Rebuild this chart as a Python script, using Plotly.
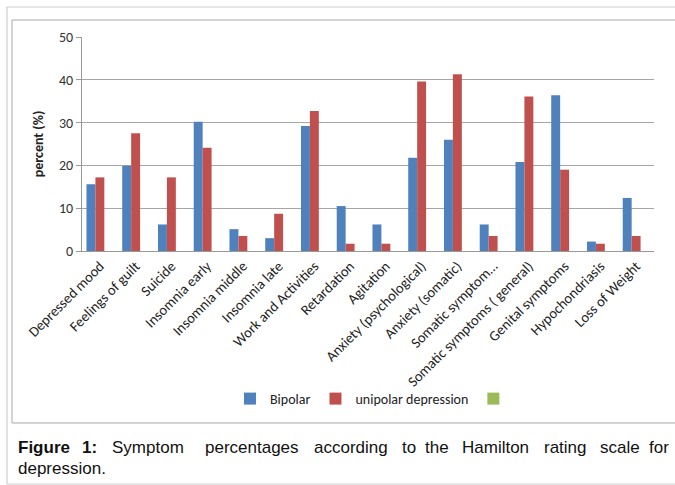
import plotly.graph_objects as go

categories = ["Depressed mood", "Feelings of guilt", "Suicide", "Insomnia early",
              "Insomnia middle", "Insomnia late", "Work and Activities", "Retardation",
              "Agitation", "Anxiety (psychological)", "Anxiety (somatic)",
              "Somatic symptom…", "Somatic symptoms ( general)", "Genital symptoms",
              "Hypochondriasis", "Loss of Weight"]

bipolar = [15.6, 19.9, 6.2, 30.2, 5.1, 3.0, 29.2, 10.5, 6.2, 21.8, 26.0, 6.2, 20.8, 36.4, 2.2, 12.4]
unipolar = [17.2, 27.5, 17.2, 24.1, 3.5, 8.7, 32.7, 1.7, 1.7, 39.6, 41.3, 3.5, 36.1, 19.0, 1.7, 3.5]
third = [None] * len(categories)

y_ticks = [0, 10, 20, 30, 40, 50]

W, H = 675, 485
L, R, T, B = 82, 654, 37, 251


def px(x):
    return (x - L) / (R - L)


def py(y):
    return (B - y) / (B - T)


FONT = "Carlito, Lato, sans-serif"

fig = go.Figure()
fig.add_bar(x=categories, y=bipolar, name="Bipolar", marker_color="#4F81BD",
            marker_line_width=0)
fig.add_bar(x=categories, y=unipolar, name="unipolar depression", marker_color="#C0504D",
            marker_line_width=0)
fig.add_bar(x=categories, y=third, name=" ", marker_color="#9BBB59",
            marker_line_width=0)

fig.update_layout(
    width=W, height=H,
    margin=dict(l=L, r=W - R, t=T, b=H - B, pad=0, autoexpand=False),
    paper_bgcolor="white", plot_bgcolor="white",
    barmode="group", bargap=0.25, bargroupgap=0,
    font=dict(family=FONT, size=14, color="#222"),
    showlegend=True,
    legend=dict(orientation="h", x=px(230), y=py(399), xanchor="left", yanchor="middle",
                font=dict(family=FONT, size=14, color="#222"),
                bgcolor="rgba(0,0,0,0)", itemwidth=30, traceorder="normal"),
    xaxis=dict(tickangle=-45, showgrid=False, showline=True, linecolor="#999",
               ticks="", automargin=False,
               tickfont=dict(family=FONT, size=14.5, color="#222"),
               range=[-0.5, len(categories) - 0.5]),
    yaxis=dict(range=[0, 50], tickvals=y_ticks, showgrid=True, gridcolor="#a6a6a6",
               gridwidth=1, showline=True, linecolor="#999", ticks="outside",
               ticklen=5, tickcolor="#999", zeroline=False, automargin=False,
               tickfont=dict(family=FONT, size=14, color="#333"),
               title=dict(text="<b>percent (%)</b>", standoff=12,
                          font=dict(family=FONT, size=14, color="#222"))),
)

# outer frame and inner chart frame
fig.add_shape(type="rect", xref="paper", yref="paper", x0=px(7), y0=py(484),
              x1=px(700), y1=py(7), line=dict(color="#cfcfcf", width=1.2), layer="below")
fig.add_shape(type="rect", xref="paper", yref="paper", x0=px(12), y0=py(423),
              x1=px(700), y1=py(20), line=dict(color="#a8a8a8", width=1), layer="below")

# caption, laid out word by word as in the justified original
caption_line1 = [("<b>Figure</b>", 16), ("<b>1:</b>", 80), ("Symptom", 110),
                 ("percentages", 203), ("according", 312), ("to", 400), ("the", 423),
                 ("Hamilton", 460), ("rating", 542), ("scale", 598), ("for", 647)]
for word, xx in caption_line1:
    fig.add_annotation(text=word, x=px(xx), y=py(447), xref="paper", yref="paper",
                       xanchor="left", yanchor="middle", showarrow=False,
                       font=dict(family="Liberation Sans, Arial, sans-serif", size=17,
                                 color="#111"))
fig.add_annotation(text="depression.", x=px(16), y=py(468), xref="paper", yref="paper",
                   xanchor="left", yanchor="middle", showarrow=False,
                   font=dict(family="Liberation Sans, Arial, sans-serif", size=17,
                             color="#111"))

fig.write_html("out.html", config={"displayModeBar": False},
               post_script="document.body.style.margin='0';document.body.style.overflow='hidden';")
